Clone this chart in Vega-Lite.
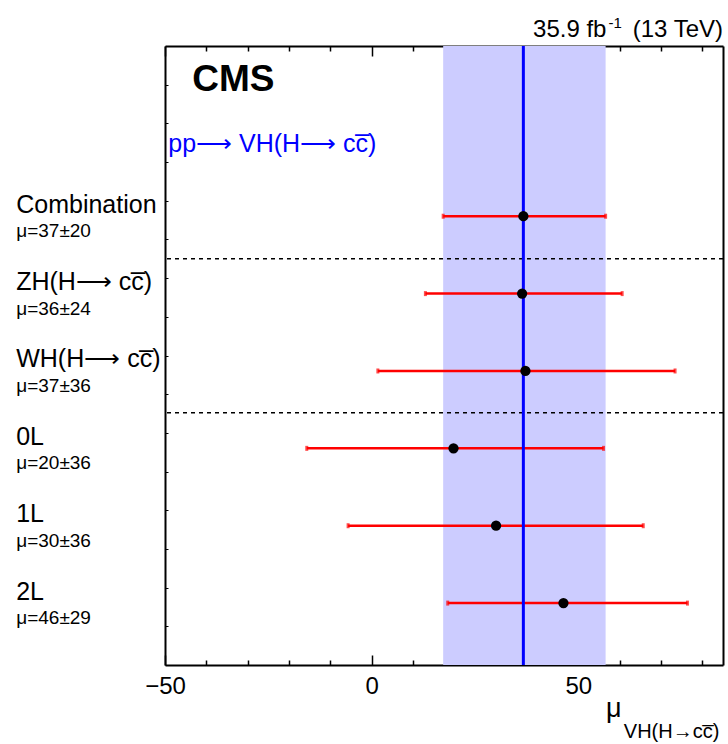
{
  "$schema": "https://vega.github.io/schema/vega-lite/v6.json",
  "width": 558,
  "height": 619,
  "autosize": {"type": "none"},
  "padding": {"left": 165, "top": 46, "right": 5, "bottom": 79},
  "background": "white",
  "config": {
    "view": {"stroke": null},
    "font": "Liberation Sans",
    "axis": {"grid": false, "zindex": 1, "title": null, "domainColor": "black", "tickColor": "black", "labelColor": "black", "labelFont": "Liberation Sans"}
  },
  "datasets": {
    "fits": [
      {"name": "Combination", "label": "μ=37±20", "pos": 5.8, "mu": 36.7, "lo": 17.3, "hi": 56.6},
      {"name": "ZH(H\u27f6 cc\u0305)", "label": "μ=36±24", "pos": 4.8, "mu": 36.4, "lo": 13.0, "hi": 60.6},
      {"name": "WH(H\u27f6 cc\u0305)", "label": "μ=37±36", "pos": 3.8, "mu": 37.2, "lo": 1.5, "hi": 73.4},
      {"name": "0L", "label": "μ=20±36", "pos": 2.8, "mu": 19.8, "lo": -15.7, "hi": 56.1},
      {"name": "1L", "label": "μ=30±36", "pos": 1.8, "mu": 30.1, "lo": -5.7, "hi": 65.7},
      {"name": "2L", "label": "μ=46±29", "pos": 0.8, "mu": 46.4, "lo": 18.4, "hi": 76.4}
    ],
    "separators": [{"sep": 5.25}, {"sep": 3.26}]
  },
  "data": {"name": "fits"},
  "resolve": {"axis": {"x": "independent", "y": "independent"}},
  "layer": [
    {
      "transform": [{"filter": "datum.name === 'Combination'"}],
      "mark": {"type": "rect", "color": "#ccccff"},
      "encoding": {
        "x": {"field": "lo", "type": "quantitative", "scale": {"domain": [-50, 85], "nice": false, "zero": false},
          "axis": {"orient": "bottom", "values": [-50, 0, 50], "tickSize": -10, "tickWidth": 1.5, "labelPadding": 19, "labelFontSize": 24, "labelFlush": false, "labelOverlap": false, "labelBound": false, "domainWidth": 2}},
        "x2": {"field": "hi"}
      }
    },
    {
      "data": {"name": "separators"},
      "mark": {"type": "rule", "strokeDash": [4, 4], "strokeWidth": 1.5, "color": "black"},
      "encoding": {
        "y": {"field": "sep", "type": "quantitative", "scale": {"domain": [0, 8], "nice": false, "zero": false},
          "axis": {"orient": "left", "values": [0.5, 1, 1.5, 2, 2.5, 3, 3.5, 4, 4.5, 5, 5.5, 6, 6.5, 7, 7.5], "tickSize": -3, "tickWidth": 1, "labels": false, "domainWidth": 2}}
      }
    },
    {
      "mark": {"type": "rule", "color": "#ff0000", "strokeWidth": 2.5},
      "encoding": {
        "x": {"field": "lo", "type": "quantitative",
          "axis": {"orient": "bottom", "values": [-40, -30, -20, -10, 10, 20, 30, 40, 60, 70, 80], "tickSize": -5, "tickWidth": 1.5, "labels": false, "domain": false}},
        "x2": {"field": "hi"},
        "y": {"field": "pos", "type": "quantitative",
          "axis": {"orient": "right", "ticks": false, "labels": false, "domainWidth": 2}}
      }
    },
    {
      "mark": {"type": "tick", "orient": "vertical", "color": "#ff0000", "size": 5, "thickness": 3},
      "encoding": {
        "x": {"field": "lo", "type": "quantitative", "axis": null},
        "y": {"field": "pos", "type": "quantitative", "axis": null}
      }
    },
    {
      "mark": {"type": "tick", "orient": "vertical", "color": "#ff0000", "size": 5, "thickness": 3},
      "encoding": {
        "x": {"field": "hi", "type": "quantitative", "axis": null},
        "y": {"field": "pos", "type": "quantitative", "axis": null}
      }
    },
    {
      "transform": [{"filter": "datum.name === 'Combination'"}],
      "mark": {"type": "rule", "color": "#0000ff", "strokeWidth": 3},
      "encoding": {
        "x": {"field": "mu", "type": "quantitative",
          "axis": {"orient": "top", "values": [-50, 0, 50], "tickSize": -10, "tickWidth": 1.5, "labels": false, "domainWidth": 2}}
      }
    },
    {
      "mark": {"type": "circle", "color": "black", "opacity": 1, "size": 105},
      "encoding": {
        "x": {"field": "mu", "type": "quantitative",
          "axis": {"orient": "top", "values": [-40, -30, -20, -10, 10, 20, 30, 40, 60, 70, 80], "tickSize": -5, "tickWidth": 1.5, "labels": false, "domain": false}},
        "y": {"field": "pos", "type": "quantitative", "axis": null}
      }
    },
    {
      "mark": {"type": "text", "align": "left", "baseline": "alphabetic", "fontSize": 25, "dy": -3.5, "color": "black"},
      "encoding": {
        "x": {"datum": -86, "type": "quantitative", "axis": null},
        "y": {"field": "pos", "type": "quantitative", "axis": null},
        "text": {"field": "name"}
      }
    },
    {
      "mark": {"type": "text", "align": "left", "baseline": "alphabetic", "fontSize": 19, "dy": 21, "color": "black"},
      "encoding": {
        "x": {"datum": -86, "type": "quantitative", "axis": null},
        "y": {"field": "pos", "type": "quantitative", "axis": null},
        "text": {"field": "label"}
      }
    },
    {
      "data": {"values": [{"t": "CMS"}]},
      "mark": {"type": "text", "align": "left", "baseline": "alphabetic", "fontSize": 37, "fontWeight": "bold", "color": "black"},
      "encoding": {
        "x": {"datum": -43.4, "type": "quantitative", "axis": null},
        "y": {"datum": 7.415, "type": "quantitative", "axis": null},
        "text": {"field": "t"}
      }
    },
    {
      "data": {"values": [{"t": "pp\u27f6 VH(H\u27f6 cc\u0305)"}]},
      "mark": {"type": "text", "align": "left", "baseline": "alphabetic", "fontSize": 25, "color": "#0000ff"},
      "encoding": {
        "x": {"datum": -49.2, "type": "quantitative", "axis": null},
        "y": {"datum": 6.63, "type": "quantitative", "axis": null},
        "text": {"field": "t"}
      }
    },
    {
      "data": {"values": [{"t": "35.9 fb"}]},
      "mark": {"type": "text", "align": "right", "baseline": "alphabetic", "fontSize": 24, "color": "black"},
      "encoding": {
        "x": {"datum": 56.8, "type": "quantitative", "axis": null},
        "y": {"datum": 8.112, "type": "quantitative", "axis": null},
        "text": {"field": "t"}
      }
    },
    {
      "data": {"values": [{"t": "-1"}]},
      "mark": {"type": "text", "align": "left", "baseline": "alphabetic", "fontSize": 15, "color": "black"},
      "encoding": {
        "x": {"datum": 57.3, "type": "quantitative", "axis": null},
        "y": {"datum": 8.23, "type": "quantitative", "axis": null},
        "text": {"field": "t"}
      }
    },
    {
      "data": {"values": [{"t": "(13 TeV)"}]},
      "mark": {"type": "text", "align": "right", "baseline": "alphabetic", "fontSize": 24, "color": "black"},
      "encoding": {
        "x": {"datum": 85, "type": "quantitative", "axis": null},
        "y": {"datum": 8.112, "type": "quantitative", "axis": null},
        "text": {"field": "t"}
      }
    },
    {
      "data": {"values": [{"t": "μ"}]},
      "mark": {"type": "text", "align": "left", "baseline": "alphabetic", "fontSize": 27, "color": "black"},
      "encoding": {
        "x": {"datum": 56.7, "type": "quantitative", "axis": null},
        "y": {"datum": -0.673, "type": "quantitative", "axis": null},
        "text": {"field": "t"}
      }
    },
    {
      "data": {"values": [{"t": "VH(H\u2192cc\u0305)"}]},
      "mark": {"type": "text", "align": "left", "baseline": "alphabetic", "fontSize": 20, "color": "black"},
      "encoding": {
        "x": {"datum": 61.0, "type": "quantitative", "axis": null},
        "y": {"datum": -0.944, "type": "quantitative", "axis": null},
        "text": {"field": "t"}
      }
    }
  ]
}
